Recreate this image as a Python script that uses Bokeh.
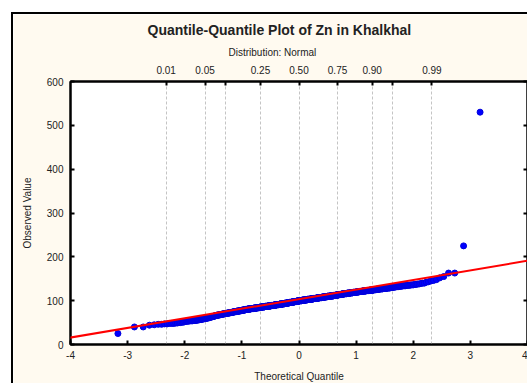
from statistics import NormalDist

import numpy as np
from bokeh.embed import file_html
from bokeh.models import (ColumnDataSource, CustomJSTickFormatter, FixedTicker,
                          Grid, LinearAxis, Range1d, Slope, Title)
from bokeh.plotting import figure
from bokeh.resources import INLINE

# ---- data (sorted Zn values and how many samples share each) ----
zn_values = [25, 40, 44, 45, 46, 47, 48, 49, 50, 51, 52, 53, 54, 55,
             56, 57, 58, 59, 60, 61, 62, 63, 64, 65, 66, 67, 68, 69, 70,
             71, 72, 73, 74, 75, 76, 77, 78, 79, 80,
             81, 82, 83, 84, 85, 86, 87, 88, 89, 90, 91, 92,
             93, 94, 95, 96, 97, 98, 99, 100, 101, 102, 103, 104, 105,
             106, 107, 108, 109, 110, 111, 112, 113, 114, 115, 116, 117, 118, 119,
             120, 121, 122, 123, 124, 125, 126, 127, 128, 129,
             130, 131, 132, 133, 134, 135, 136, 137, 138, 139, 140,
             142, 143, 145, 146, 148, 152, 155, 163, 225, 530]
zn_counts = [1, 2, 1, 1, 2, 2, 3, 2, 2, 2, 1, 3, 4, 4,
             3, 3, 3, 3, 3, 3, 2, 3, 3, 2, 3, 5, 5, 4, 5,
             6, 7, 6, 6, 7, 8, 8, 7, 8, 8,
             12, 12, 13, 12, 12, 13, 15, 15, 15, 14, 15, 15,
             14, 14, 13, 14, 14, 13, 14, 16, 16, 16, 17, 16, 16,
             15, 15, 15, 14, 15, 15, 12, 12, 12, 11, 12, 12, 11, 12,
             10, 10, 11, 10, 10, 7, 7, 7, 7, 6,
             4, 4, 4, 4, 4, 4, 3, 2, 2, 1, 2,
             1, 1, 1, 1, 1, 1, 1, 2, 1, 1]

labeled_probs = [0.01, 0.05, 0.25, 0.50, 0.75, 0.90, 0.99]
labeled_prob_text = ["0.01", "0.05", "0.25", "0.50", "0.75", "0.90", "0.99"]
unlabeled_probs = [0.10, 0.95]
x_ticks = [-4, -3, -2, -1, 0, 1, 2, 3, 4]
y_ticks = [0, 100, 200, 300, 400, 500, 600]

fit_intercept = 103.5
fit_slope = 21.9

title_text = "Quantile-Quantile Plot of Zn in Khalkhal"
subtitle_text = "Distribution: Normal"
x_label = "Theoretical Quantile"
y_label = "Observed Value"

# ---- normal quantiles for the sorted sample ----
nd = NormalDist()
observed = np.repeat(np.array(zn_values, dtype=float), zn_counts)
n = len(observed)
theoretical = [nd.inv_cdf((i - 0.375) / (n + 0.25)) for i in range(1, n + 1)]
major_prob_ticks = [nd.inv_cdf(q) for q in labeled_probs]
minor_prob_ticks = [nd.inv_cdf(q) for q in unlabeled_probs]
all_prob_ticks = sorted(major_prob_ticks + minor_prob_ticks)

FONT = "Liberation Sans"
CREAM = "#fffaf0"
TXT = "#222222"

p = figure(width=516, height=371, output_backend="svg", toolbar_location=None,
           x_range=Range1d(-4, 4), y_range=Range1d(0, 600),
           x_axis_type=None, y_axis_type=None,
           background_fill_color="white", border_fill_color=CREAM,
           min_border_left=57, min_border_right=2, min_border_top=67, min_border_bottom=41)
p.margin = (12, 0, 0, 11)
p.styles = {"border-left": "2px solid black", "border-top": "2px solid black"}

p.xgrid.visible = False
p.ygrid.visible = False
p.outline_line_color = "black"
p.outline_line_width = 2

hyphen_fmt = CustomJSTickFormatter(code="return tick.toString();")
bottom_axis = LinearAxis(ticker=FixedTicker(ticks=x_ticks), axis_label=x_label,
                         formatter=hyphen_fmt)
left_axis = LinearAxis(ticker=FixedTicker(ticks=y_ticks), axis_label=y_label,
                       formatter=CustomJSTickFormatter(code="return tick.toString();"))
top_axis = LinearAxis(ticker=FixedTicker(ticks=major_prob_ticks, minor_ticks=minor_prob_ticks),
                      formatter=CustomJSTickFormatter(args=dict(labels=labeled_prob_text),
                                                      code="return labels[index];"))
right_axis = LinearAxis(ticker=FixedTicker(ticks=[], minor_ticks=y_ticks))

p.add_layout(bottom_axis, "below")
p.add_layout(left_axis, "left")
p.add_layout(top_axis, "above")
p.add_layout(right_axis, "right")

for ax in [bottom_axis, left_axis, top_axis, right_axis]:
    ax.major_tick_in = 4
    ax.major_tick_out = 0
    ax.minor_tick_in = 4
    ax.minor_tick_out = 0
    ax.axis_line_color = "black"
    ax.axis_line_width = 2
    ax.major_tick_line_color = "black"
    ax.major_tick_line_width = 2
    ax.minor_tick_line_color = "black"
    ax.minor_tick_line_width = 2
    ax.major_label_text_font = FONT
    ax.major_label_text_font_size = "10px"
    ax.major_label_text_color = TXT
    ax.axis_label_text_font = FONT
    ax.axis_label_text_font_size = "10px"
    ax.axis_label_text_font_style = "normal"
    ax.axis_label_text_color = TXT
bottom_axis.major_label_standoff = 6
bottom_axis.axis_label_standoff = 9
left_axis.major_label_standoff = 7
left_axis.axis_label_standoff = 11
top_axis.major_label_standoff = 8

sub = Title(text=subtitle_text, text_font=FONT, text_font_size="10px",
            text_font_style="normal", text_color=TXT, align="left", offset=158, standoff=10)
p.add_layout(sub, "above")

p.title.text = title_text
p.title.text_font = FONT
p.title.text_font_size = "14px"
p.title.text_font_style = "bold"
p.title.text_color = TXT
p.title.align = "left"
p.title.offset = 77
p.title.standoff = 4

vgrid = Grid(dimension=0, ticker=FixedTicker(ticks=all_prob_ticks), grid_line_color="#c4c4c4",
             grid_line_dash="3 2", grid_line_width=1)
p.center.append(vgrid)

src = ColumnDataSource(data=dict(x=theoretical, y=observed))
p.scatter("x", "y", source=src, marker="circle", size=6, fill_color="#0000ff",
          line_color="#0000dd", line_width=1)

p.add_layout(Slope(gradient=fit_slope, y_intercept=fit_intercept,
                   line_color="#ff0000", line_width=2))

open("out.html", "w").write(file_html(p, INLINE))
